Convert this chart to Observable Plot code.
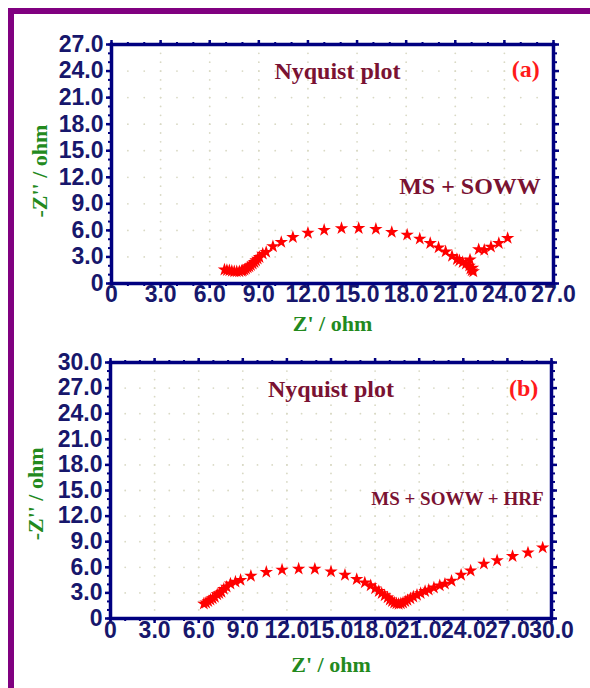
<!DOCTYPE html>
<html>
<head>
<meta charset="utf-8">
<script src="https://cdn.jsdelivr.net/npm/d3@7"></script>
<script src="https://cdn.jsdelivr.net/npm/@observablehq/plot@0.6"></script>
<style>
  html, body { margin: 0; padding: 0; background: #fff; }
  #wrap { position: relative; width: 590px; height: 688px; overflow: hidden; background: #fff; }
  .bar { position: absolute; background: #800080; }
  .panel { position: absolute; left: 0; }
  svg { overflow: visible; }
</style>
</head>
<body>
<div id="wrap">
  <div class="bar" style="left:8px; top:8px; width:582px; height:6px;"></div>
  <div class="bar" style="left:8px; top:8px; width:6px; height:680px;"></div>
  <div class="panel" id="pa" style="top:0px;"></div>
  <div class="panel" id="pb" style="top:345px;"></div>
</div>
<script>
// Panel (a): MS + SOWW
const aZre = [6.9,7.05,7.2,7.35,7.5,7.65,7.81,7.95,8.02,8.12,8.22,8.32,8.42,8.52,8.63,8.73,8.83,8.93,9.04,9.24,9.45,9.86,10.37,11.08,12.0,12.99,14.05,15.1,16.15,17.12,18.06,18.83,19.47,19.98,20.41,20.8,21.1,21.25,21.45,21.65,21.85,21.92,22.0,22.1,22.05,21.9,22.43,22.77,23.18,23.66,24.2];
const aZim = [1.55,1.5,1.47,1.4,1.36,1.34,1.36,1.4,1.47,1.55,1.66,1.8,1.92,2.05,2.22,2.4,2.6,2.78,2.97,3.35,3.54,4.18,4.67,5.23,5.71,6.03,6.23,6.24,6.15,5.8,5.5,5.05,4.55,4.06,3.6,3.1,2.74,2.6,2.4,2.22,2.0,1.66,1.45,1.36,1.77,2.68,3.85,3.77,4.14,4.55,5.12];

// Panel (b): MS + SOWW + HRF
const bZre = [6.35,6.5,6.65,6.8,6.95,7.1,7.26,7.4,7.55,7.71,7.9,8.16,8.5,8.85,9.55,10.6,11.67,12.8,13.9,15.0,15.95,16.75,17.3,17.7,18.0,18.25,18.45,18.65,18.85,19.0,19.15,19.3,19.45,19.6,19.75,19.9,20.05,20.2,20.4,20.6,20.85,21.1,21.4,21.65,22.0,22.4,22.75,23.2,23.85,24.5,25.4,26.3,27.35,28.4,29.4];
const bZim = [1.72,1.85,2.0,2.19,2.35,2.5,2.81,2.95,3.1,3.45,3.7,4.07,4.3,4.5,4.98,5.44,5.7,5.82,5.8,5.5,5.1,4.6,4.2,3.87,3.5,3.2,2.95,2.7,2.45,2.2,2.0,1.85,1.75,1.7,1.75,1.85,2.0,2.15,2.35,2.55,2.75,2.95,3.2,3.35,3.6,3.85,4.05,4.4,5.1,5.6,6.4,6.8,7.3,7.7,8.3];

// Axis ticks
const aMajor = [0,3,6,9,12,15,18,21,24,27];
const bMajor = [0,3,6,9,12,15,18,21,24,27,30];
const aMinor = d3.range(0, 28, 1);
const bMinor = d3.range(0, 31, 1);

// Texts
const titleText = "Nyquist plot";
const aTag = "(a)";
const bTag = "(b)";
const aSample = "MS + SOWW";
const bSample = "MS + SOWW + HRF";
const xTitle = "Z' / ohm";
const yTitle = "-Z'' / ohm";

const NAVY = "#000080";
const LABEL = "#17176c";
const MAROON = "#7a1232";
const GREEN = "#238a1e";
const SANS = "'Liberation Sans', Arial, sans-serif";
const SERIF = "'Liberation Serif', 'Times New Roman', serif";
const fmt = d => d === 0 ? "0" : d.toFixed(1);

function gridPoints(major, minor, max) {
  const pts = [];
  const inner = major.filter(v => v > 0 && v < max);
  const innerMinor = minor.filter(v => v > 0 && v < max);
  for (const gx of inner) for (const gy of innerMinor) pts.push({x: gx, y: gy});
  for (const gy of inner) for (const gx of innerMinor) pts.push({x: gx, y: gy});
  return pts;
}

function panel(opts) {
  const {zre, zim, major, minor, max, height, margins, tag, tagPos, sample, samplePos, titlePos, sampleSize, xLabelDy, xTitleDy, yTitleDx, yTitleY} = opts;
  const pts = zre.map((v, i) => ({zre: v, zim: zim[i]}));
  return Plot.plot({
    width: 590,
    height,
    ...margins,
    x: {domain: [0, max]},
    y: {domain: [0, max]},
    style: {background: "transparent", overflow: "visible"},
    marks: [
      Plot.dot(gridPoints(major, minor, max), {x: "x", y: "y", r: 0.9, fill: "#d9d9c4", stroke: null}),
      Plot.axisX(minor, {anchor: "bottom", tickSize: 3, tickFormat: () => "", stroke: NAVY, strokeWidth: 2, label: null}),
      Plot.axisX(major, {anchor: "bottom", tickSize: 5, tickFormat: () => "", stroke: NAVY, strokeWidth: 2.5, label: null}),
      Plot.axisX(minor, {anchor: "top", tickSize: 3, tickFormat: () => "", stroke: NAVY, strokeWidth: 2, label: null}),
      Plot.axisX(major, {anchor: "top", tickSize: 5, tickFormat: () => "", stroke: NAVY, strokeWidth: 2.5, label: null}),
      Plot.axisY(minor, {anchor: "left", tickSize: 3, tickFormat: () => "", stroke: NAVY, strokeWidth: 2, label: null}),
      Plot.axisY(major, {anchor: "left", tickSize: 5, tickFormat: () => "", stroke: NAVY, strokeWidth: 2.5, label: null}),
      Plot.axisY(minor, {anchor: "right", tickSize: 3, tickFormat: () => "", stroke: NAVY, strokeWidth: 2, label: null}),
      Plot.axisY(major, {anchor: "right", tickSize: 5, tickFormat: () => "", stroke: NAVY, strokeWidth: 2.5, label: null}),
      Plot.frame({stroke: NAVY, strokeWidth: 3.5}),
      Plot.text(major, {x: d => d, frameAnchor: "bottom", dy: xLabelDy, text: fmt, fontSize: 23, fontWeight: "bold", fill: LABEL, fontFamily: SANS}),
      Plot.text(major, {y: d => d, frameAnchor: "left", dx: -8, textAnchor: "end", text: fmt, fontSize: 23, fontWeight: "bold", fill: LABEL, fontFamily: SANS}),
      Plot.text([xTitle], {x: max / 2, frameAnchor: "bottom", dy: xTitleDy, text: d => d, fontSize: 22, fontWeight: "bold", fill: GREEN, fontFamily: SERIF}),
      Plot.text([yTitle], {y: yTitleY, frameAnchor: "left", dx: yTitleDx, rotate: -90, textAnchor: "middle", text: d => d, fontSize: 22, fontWeight: "bold", fill: GREEN, fontFamily: SERIF}),
      Plot.text([titleText], {x: titlePos[0], y: titlePos[1], text: d => d, fontSize: 24, fontWeight: "bold", fill: MAROON, fontFamily: SERIF}),
      Plot.text([tag], {x: tagPos[0], y: tagPos[1], text: d => d, fontSize: 24, fontWeight: "bold", fill: "#ff1a1a", fontFamily: SERIF}),
      Plot.text([sample], {x: samplePos[0], y: samplePos[1], text: d => d, fontSize: sampleSize, fontWeight: "bold", fill: MAROON, fontFamily: SERIF}),
      Plot.dot(pts, {x: "zre", y: "zim", symbol: "star", r: 4.2, fill: "#ff0000", stroke: null})
    ]
  });
}

document.getElementById("pa").appendChild(panel({
  zre: aZre, zim: aZim, major: aMajor, minor: aMinor, max: 27, height: 345,
  margins: {marginLeft: 111, marginRight: 37, marginTop: 44, marginBottom: 62},
  tag: aTag, tagPos: [25.3, 24.2], sample: aSample, samplePos: [21.9, 10.96], sampleSize: 24,
  titlePos: [13.8, 24.0], xLabelDy: 18, xTitleDy: 47, yTitleDx: -72, yTitleY: 12.7
}));

document.getElementById("pb").appendChild(panel({
  zre: bZre, zim: bZim, major: bMajor, minor: bMinor, max: 30, height: 343,
  margins: {marginLeft: 110, marginRight: 39, marginTop: 17, marginBottom: 70},
  tag: bTag, tagPos: [28.1, 27.0], sample: bSample, samplePos: [23.6, 14.07], sampleSize: 19,
  titlePos: [15.0, 26.85], xLabelDy: 19, xTitleDy: 53, yTitleDx: -75, yTitleY: 14.6
}));
</script>
</body>
</html>
